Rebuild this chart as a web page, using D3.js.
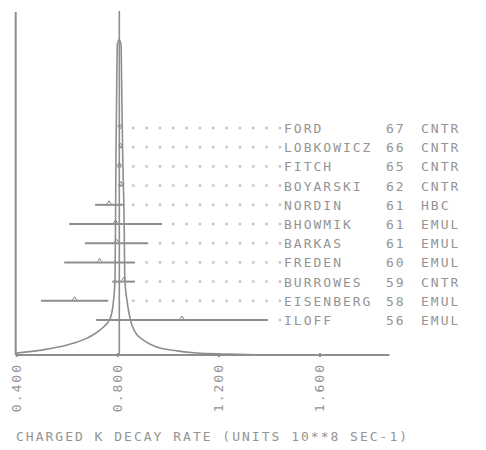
<!DOCTYPE html>
<html>
<head>
<meta charset="utf-8">
<script src="https://cdn.jsdelivr.net/npm/d3@7/dist/d3.min.js"></script>
<style>
  html, body { margin: 0; padding: 0; background: #fff; }
  svg { display: block; }
  text { font-family: "DejaVu Sans Mono", monospace; font-size: 13px; fill: #949494; letter-spacing: 2px; }
</style>
</head>
<body>
<div id="chart"></div>
<script>
// Charged K decay rate measurements (units 10**8 sec-1)
const authors = ["FORD", "LOBKOWICZ", "FITCH", "BOYARSKI", "NORDIN", "BHOWMIK",
                 "BARKAS", "FREDEN", "BURROWES", "EISENBERG", "ILOFF"];
const years   = ["67", "66", "65", "62", "61", "61", "61", "60", "59", "58", "56"];
const methods = ["CNTR", "CNTR", "CNTR", "CNTR", "HBC", "EMUL", "EMUL", "EMUL", "CNTR", "EMUL", "EMUL"];
const values  = [0.808, 0.810, 0.806, 0.812, 0.765, 0.791, 0.795, 0.728, 0.823, 0.629, 1.054];
const errors  = [0.004, 0.006, 0.008, 0.010, 0.055, 0.184, 0.125, 0.140, 0.045, 0.133, 0.340];

// Weighted mean
const meanValue = 0.806;

// Ideogram curve, relative height (top of frame = 1)
const curveRate   = [0.400, 0.504, 0.599, 0.678, 0.730, 0.769, 0.781, 0.789, 0.791, 0.793, 0.796, 0.798, 0.805,
                     0.813, 0.815, 0.819, 0.825, 0.828, 0.836, 0.848, 0.868, 0.900, 0.955, 1.034, 1.113, 1.232, 1.363];
const curveHeight = [0.006, 0.015, 0.029, 0.049, 0.073, 0.105, 0.145, 0.218, 0.392, 0.596, 0.799, 0.901, 0.916,
                     0.901, 0.799, 0.596, 0.392, 0.218, 0.160, 0.108, 0.067, 0.044, 0.023, 0.012, 0.006, 0.003, 0.000];

const tickValues = [0.4, 0.8, 1.2, 1.6];
const tickLabels = ["0.400", "0.800", "1.200", "1.600"];
const axisTitle = "CHARGED K DECAY RATE (UNITS 10**8 SEC-1)";

const W = 486, H = 450;
const svg = d3.select("#chart").append("svg").attr("width", W).attr("height", H);

const x = d3.scaleLinear().domain([0.4, 1.6]).range([16.7, 320]);
const y = d3.scaleLinear().domain([0, 1]).range([355, 11]);
const row = d3.scaleLinear().domain([0, authors.length - 1]).range([128, 320]);

const lineColor = "#8e8e8e";
const g = svg.append("g");

// Baseline axis
g.append("line")
  .attr("x1", x(0.4)).attr("x2", x(1.875))
  .attr("y1", y(0)).attr("y2", y(0))
  .attr("stroke", lineColor).attr("stroke-width", 2);

// Left frame line
g.append("line")
  .attr("x1", x(0.4) - 1).attr("x2", x(0.4) - 1)
  .attr("y1", y(0)).attr("y2", y(1) + 1)
  .attr("stroke", lineColor).attr("stroke-width", 2);

// Mean line
g.append("line")
  .attr("x1", x(meanValue)).attr("x2", x(meanValue))
  .attr("y1", y(0)).attr("y2", y(1))
  .attr("stroke", lineColor).attr("stroke-width", 1.6);

// Tick marks
g.selectAll(".tick").data(tickValues).enter().append("line")
  .attr("x1", d => x(d)).attr("x2", d => x(d))
  .attr("y1", y(0) - 2).attr("y2", y(0) + 2)
  .attr("stroke", lineColor).attr("stroke-width", 2);

// Tick labels (rotated)
g.selectAll(".tl").data(tickValues).enter().append("text")
  .attr("transform", d => `translate(${x(d) + 4},363) rotate(-90)`)
  .attr("text-anchor", "end")
  .text((d, i) => tickLabels[i]);

// Ideogram curve
const curvePts = curveRate.map((r, i) => [r, curveHeight[i]]);
g.append("path")
  .datum(curvePts)
  .attr("fill", "none")
  .attr("stroke", lineColor).attr("stroke-width", 1.6)
  .attr("d", d3.line().x(d => x(d[0])).y(d => y(d[1])).curve(d3.curveMonotoneX));

// Leader dots grid
const dotStart = 133.3, dotStep = 13.33, dotCount = 12;

authors.forEach((name, i) => {
  const yy = row(i);
  const lo = x(values[i] - errors[i]);
  const hi = x(values[i] + errors[i]);
  // error bar
  g.append("line")
    .attr("x1", lo).attr("x2", hi)
    .attr("y1", yy).attr("y2", yy)
    .attr("stroke", lineColor).attr("stroke-width", 2);
  // central value marker
  const cx = x(values[i]);
  g.append("path")
    .attr("d", `M${cx - 2},${yy - 1} L${cx},${yy - 4} L${cx + 2},${yy - 1}`)
    .attr("fill", "none").attr("stroke", "#808080").attr("stroke-width", 1);
  // leader dots
  for (let k = 0; k < dotCount; k++) {
    const dx = dotStart + dotStep * k;
    if (dx > hi + 5) {
      g.append("circle").attr("cx", dx).attr("cy", yy).attr("r", 1)
        .attr("fill", "none").attr("stroke", "#ababab").attr("stroke-width", 0.9);
    }
  }
  // labels
  g.append("text").attr("x", 284).attr("y", yy + 5).text(name);
  g.append("text").attr("x", 386).attr("y", yy + 5).text(years[i]);
  g.append("text").attr("x", 421).attr("y", yy + 5).text(methods[i]);
});

// Axis title
g.append("text").attr("x", 16).attr("y", 441).text(axisTitle);
</script>
</body>
</html>
